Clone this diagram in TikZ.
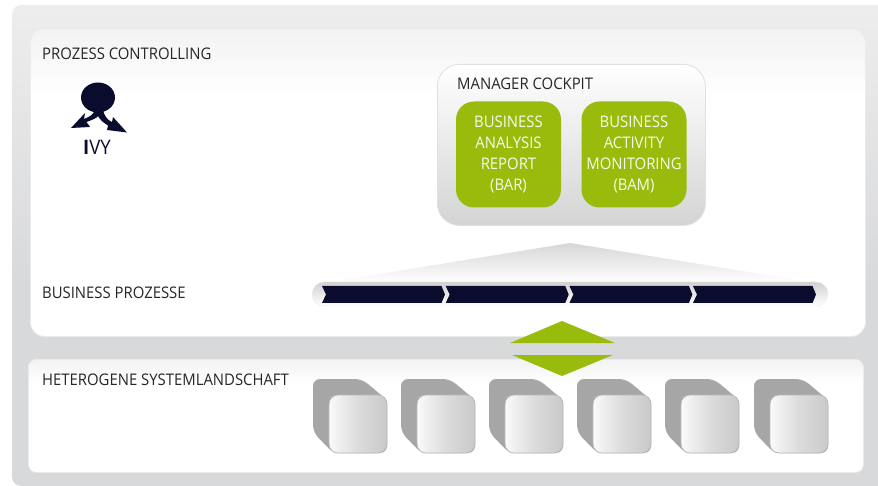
\documentclass[tikz,border=0pt]{standalone}
\usepackage{fontspec}
\setmainfont[FakeStretch=0.93]{Open Sans}
\usetikzlibrary{positioning}
\definecolor{ivyblue}{HTML}{0A0C2E}
\definecolor{ivygreen}{HTML}{99BC0C}
\definecolor{bandgray}{HTML}{D8D9DB}
\pgfdeclareverticalshading{panelshade}{100bp}{color(0bp)=(white); color(64bp)=(white); color(75bp)=(black!5); color(100bp)=(black!5)}
\pgfdeclareverticalshading{backshade}{100bp}{color(0bp)=(bandgray); color(46bp)=(bandgray); color(75bp)=(black!7); color(100bp)=(black!7)}
\pgfdeclarehorizontalshading{frontshade}{100bp}{color(0bp)=(black!2); color(25bp)=(black!2); color(50bp)=(black!14); color(75bp)=(black!21); color(100bp)=(black!21)}
\tikzset{
    caption/.style={anchor=base west, inner sep=0pt, text=black!85, font=\fontsize{16}{18}\selectfont},
    panel/.style={draw=black!8, line width=0.8pt, anchor=north west, inner sep=0pt, shading=panelshade},
    greenbox/.style={fill=ivygreen, rounded corners=18pt, minimum width=105pt, minimum height=106pt, inner sep=0pt, align=center, text=white!92!ivygreen, font=\fontsize{16}{21}\selectfont},
    chevron/.style={fill=ivyblue},
    cubeback/.style={fill=black!35, rounded corners=7pt},
    cubefront/.style={draw=black!28, line width=0.8pt, shading=frontshade, rounded corners=9pt, minimum width=58pt, minimum height=58pt, inner sep=0pt}
}
\begin{document}
\begin{tikzpicture}[x=1pt, y=-1pt]
    \useasboundingbox (0, 0) rectangle (878, 486);
    % backdrop
    \shade[shading=backshade, rounded corners=9pt] (12, 5) rectangle (895, 486);
    \node[panel, rounded corners=14pt, minimum width=835pt, minimum height=308pt] (controlling) at (30, 28) {};
    \node[panel, rounded corners=8pt, minimum width=835pt, minimum height=113pt] (landschaft) at (28, 359) {};
    % cockpit
    \node[draw=black!12, line width=0.8pt, rounded corners=22pt, top color=white, bottom color=black!17, minimum width=268pt, minimum height=161pt, anchor=north west] (cockpit) at (437, 64) {};
    \node[caption] (cockpitlabel) at (457, 89.5) {MANAGER COCKPIT};
    \node[greenbox] (bar) at (508.5, 154.5) {BUSINESS\\ANALYSIS\\REPORT\\(BAR)};
    \node[greenbox] (bam) at (634, 154.5) {BUSINESS\\ACTIVITY\\MONITORING\\(BAM)};
    % funnel and process bar
    \shade[top color=black!16, bottom color=white] (570, 243) -- (810, 282) -- (330, 282) -- cycle;
    \node[draw=black!8, rounded corners=12pt, top color=black!18, bottom color=white, minimum width=516pt, minimum height=24pt, inner sep=0pt] (process) at (570, 294) {};
    \foreach \x in {322, 445.7, 569.4, 693} {
        \fill[chevron] (\x, 286) -- (\x+119.5, 286) -- (\x+123, 294.5) -- (\x+119.5, 303) -- (\x, 303) -- (\x+4, 294.5) -- cycle;
    }
    % double arrow
    \fill[ivygreen] (562, 321) -- (615, 343) -- (510, 343) -- cycle;
    \fill[ivygreen] (562, 376) -- (613, 355) -- (512, 355) -- cycle;
    % systems
    \foreach \x in {313, 401, 489, 577, 665, 754} {
        \fill[cubeback] (\x, 379) -- (\x+49, 379) -- (\x+74, 400) -- (\x+74, 453) -- (\x+20, 453) -- (\x, 432) -- cycle;
        \node[cubefront] (system\x) at (\x+45, 424) {};
    }
    % labels
    \node[caption] (controllinglabel) at (42, 59.5) {PROZESS CONTROLLING};
    \node[caption] (prozesselabel) at (42, 299) {BUSINESS PROZESSE};
    \node[caption] (landschaftlabel) at (42, 385.5) {HETEROGENE SYSTEMLANDSCHAFT};
    % logo
    \fill[ivyblue] (98, 97.5) ellipse (17 and 15);
    \fill[ivyblue] (95, 110) .. controls (93, 115) and (89, 117) .. (84, 119) -- (85, 113) -- (71, 128) -- (90, 127) -- (86.5, 122) .. controls (92, 120) and (97, 118) .. (98, 116) .. controls (100, 120) and (104, 123) .. (108, 125.5) -- (107, 130) -- (127, 132.5) -- (113, 117) -- (112, 122) .. controls (107, 120) and (104, 115) .. (103, 110) -- cycle;
    \node[anchor=base, inner sep=0pt, text=ivyblue, font=\fontsize{20}{22}\selectfont] (ivy) at (97, 154.5) {\textbf{I}VY};
\end{tikzpicture}
\end{document}
